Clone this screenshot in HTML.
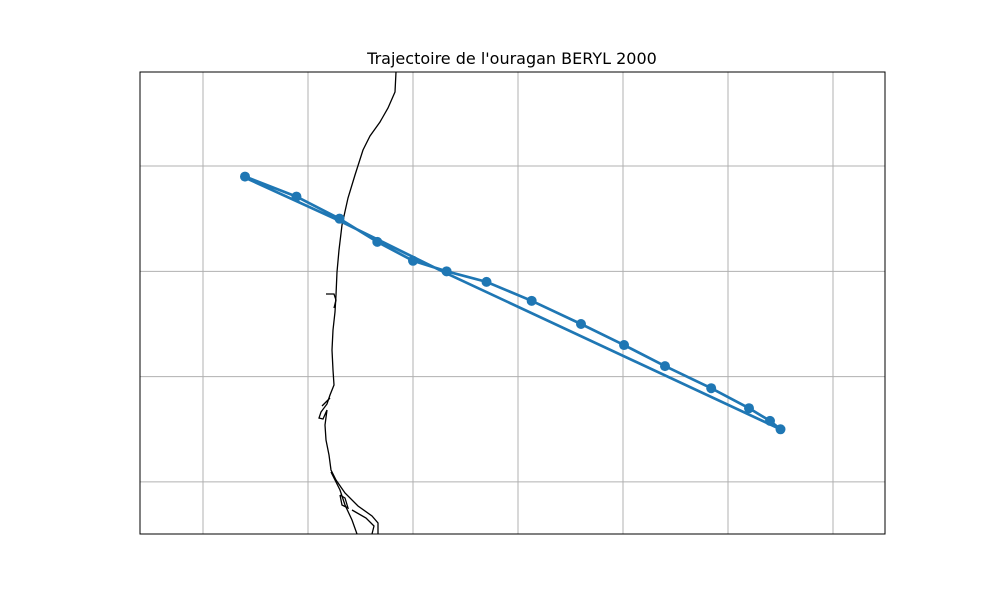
<!DOCTYPE html>
<html><head><meta charset="utf-8"><style>
body{margin:0;background:#fff;font-family:"Liberation Sans","DejaVu Sans",sans-serif}
</style></head><body>
<svg id="chart" width="1000" height="600" xmlns="http://www.w3.org/2000/svg">
<rect width="1000" height="600" fill="#fff"/>
<text x="512" y="64" text-anchor="middle" font-size="16" font-family="DejaVu Sans, Liberation Sans, sans-serif">Trajectoire de l'ouragan BERYL 2000</text>
<g id="grid"></g>
<g id="coast" fill="none" stroke="#000" stroke-width="1.3">
<polyline points="396,72 395,92 388,108 380,122 370,136 363,150 355,175 348,198 342,225 339,250 337,272 336,295 335,312 333,330 332,350 333,370 334,385 330,395 327,404 321,412 319,418 323,419 327,410 325,425 326,440 329,455 331,470 336,480 345,493 358,506 372,516 378,523 378,534"/>
<polyline points="331,472 340,490 345,505 352,520 357,534"/>
<polyline points="340,495 342,505 348,508 345,498 340,495"/>
<polyline points="326,294 334,294 336,300 334,308"/>
<polyline points="330,398 325,403 322,406"/>
<polyline points="372,534 374,526 366,518 352,510"/>
</g>
<g id="track"></g>
<rect x="140" y="72" width="745" height="462" fill="none" stroke="#000" stroke-width="1"/>
</svg>
<script>
const lons=[-97.60,-97.11,-96.70,-96.34,-96.00,-95.68,-95.30,-94.87,-94.40,-93.99,-93.60,-93.16,-92.80,-92.60,-92.50];
const lats=[25.90,25.71,25.50,25.28,25.10,25.00,24.90,24.72,24.50,24.30,24.10,23.89,23.70,23.58,23.50];
const returnLons=[-92.50,-95.68,-96.70,-97.60];
const returnLats=[23.50,24.98,25.48,25.89];
const lonGrid=[-98,-97,-96,-95,-94,-93,-92];
const latGrid=[26,25,24,23];
const NS="http://www.w3.org/2000/svg";
function xs(v){return 140+(v+98.6)*105;}
function ys(v){return 72+(26.893-v)*105.3;}
const grid=document.getElementById('grid');
lonGrid.forEach(v=>{const l=document.createElementNS(NS,'line');


l.setAttribute('x1',xs(v));l.setAttribute('x2',xs(v));l.setAttribute('y1',72);l.setAttribute('y2',534);
l.setAttribute('stroke','#b0b0b0');l.setAttribute('stroke-width','1');grid.appendChild(l);});
latGrid.forEach(v=>{const l=document.createElementNS(NS,'line');


l.setAttribute('y1',ys(v));l.setAttribute('y2',ys(v));l.setAttribute('x1',140);l.setAttribute('x2',885);
l.setAttribute('stroke','#b0b0b0');l.setAttribute('stroke-width','1');grid.appendChild(l);});
const tr=document.getElementById('track');
const pts=lons.map((v,i)=>xs(v)+','+ys(lats[i])).join(' ')+' '+returnLons.map((v,i)=>xs(v)+','+ys(returnLats[i])).join(' ');
const pl=document.createElementNS(NS,'polyline');


pl.setAttribute('points',pts);pl.setAttribute('fill','none');pl.setAttribute('stroke','#1f77b4');pl.setAttribute('stroke-width','2.7');
tr.appendChild(pl);
lons.forEach((v,i)=>{const c=document.createElementNS(NS,'circle');


c.setAttribute('cx',xs(v));c.setAttribute('cy',ys(lats[i]));c.setAttribute('r','5');c.setAttribute('fill','#1f77b4');tr.appendChild(c);});
</script>
</body></html>
